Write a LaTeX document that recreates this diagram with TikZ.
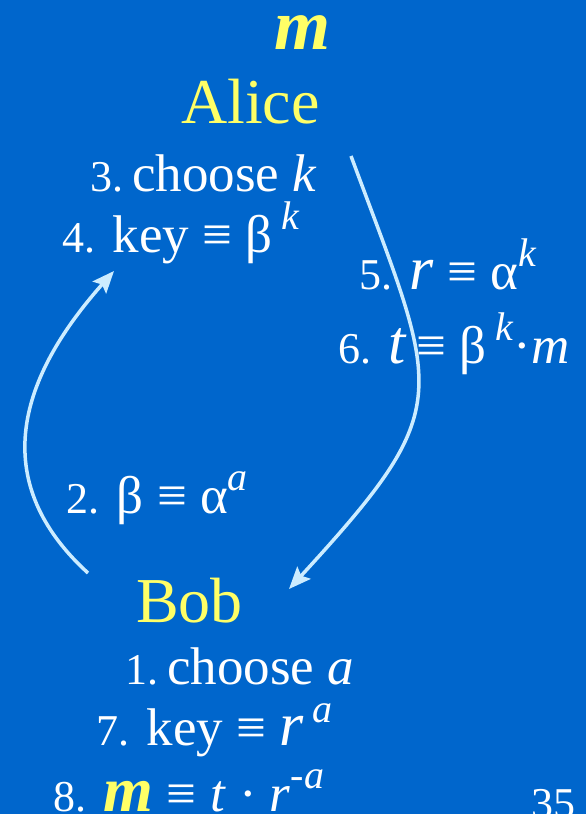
\documentclass[tikz,border=0pt]{standalone}
\usepackage{fontspec}
\setmainfont{Liberation Serif}
\usepackage{xcolor}
\usetikzlibrary{arrows.meta,positioning}

\definecolor{slideblue}{RGB}{0,102,204}
\definecolor{nameyellow}{RGB}{255,255,102}
\definecolor{arrowblue}{RGB}{204,236,255}

\newcommand{\numsz}{\fontsize{44}{48}\selectfont}
\newcommand{\sups}[1]{\raisebox{0.42em}{\fontsize{40}{40}\selectfont\textit{#1}}}
\newcommand{\bigit}[1]{{\fontsize{62}{64}\selectfont\textit{#1}}}

\begin{document}
\begin{tikzpicture}[
  x=1pt, y=-1pt,
  every node/.style={inner sep=0pt, anchor=base west, text=white,
    font=\fontsize{53}{58}\selectfont},
  who/.style={text=nameyellow, font=\fontsize{64}{70}\selectfont},
  flow/.style={draw=arrowblue, line width=3.5pt,
    -{Stealth[length=22pt,width=18pt,inset=4pt]}},
]
  \fill[slideblue] (0,0) rectangle (586,814);
  \useasboundingbox (0,0) rectangle (586,814);

  % Alice's side
  \node[who, font=\fontsize{72}{76}\selectfont\bfseries\itshape] (msg) at (274,49) {m};
  \node[who] (alice) at (181,123) {Alice};
  \node (a3) at (90,191) {{\numsz 3.}\,choose \textit{k}};
  \node (a4) at (62,252) {{\numsz 4.} key ≡ β\,\sups{k}};

  % what Alice sends
  \node (s5) at (359,289) {{\numsz 5.} \bigit{r} ≡ α\sups{k}};
  \node (s6) at (338,363) {{\numsz 6.} \bigit{t}\,≡ β\,\sups{k}·\textit{m}};

  % what Bob sends
  \node (s2) at (66,513) {{\numsz 2.} β ≡ α\sups{a}};

  % Bob's side
  \node[who] (bob) at (136,622) {Bob};
  \node (b1) at (125,684) {{\numsz 1.}\,choose \textit{a}};
  \node (b7) at (96,745) {{\numsz 7.} key ≡ \bigit{r}\,\sups{a}};
  \node (b8) at (53,811) {{\numsz 8.} {\color{nameyellow}\fontsize{64}{64}\selectfont\bfseries\itshape m} ≡ \textit{t} · \textit{r}\sups{-a}};

  \node[font=\numsz] (pg) at (531,818) {35};

  % arrows
  \coordinate (bobout) at (88,573);
  \coordinate (alicein) at (114,271);
  \coordinate (aliceout) at (351,156);
  \coordinate (bobin) at (289,589);
  \draw[flow] (bobout) .. controls (-25,470) and (35,360) .. (alicein);
  \draw[flow] (aliceout) .. controls (440,396) and (459,404) .. (bobin);
\end{tikzpicture}
\end{document}
